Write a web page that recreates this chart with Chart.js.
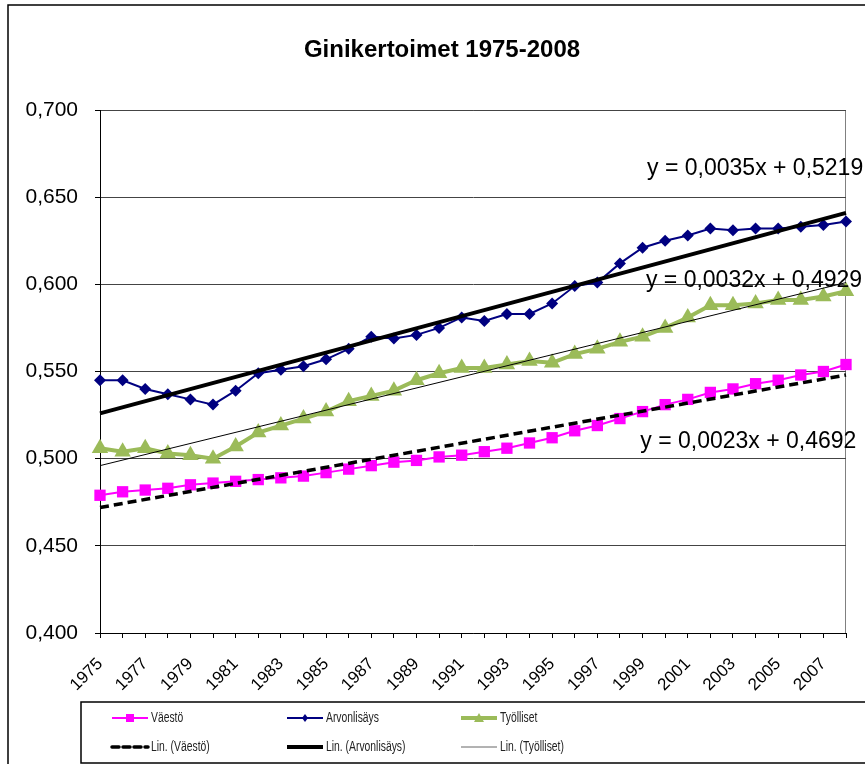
<!DOCTYPE html>
<html>
<head>
<meta charset="utf-8">
<script src="https://cdn.jsdelivr.net/npm/chart.js@4/dist/chart.umd.min.js"></script>
<style>
  html, body { margin: 0; padding: 0; background: #fff; }
  #wrap { width: 865px; height: 764px; position: relative; }
</style>
</head>
<body>
<div id="wrap"><canvas id="gini"></canvas></div>
<script>
// data
const years = ['1975','1976','1977','1978','1979','1980','1981','1982','1983','1984','1985','1986',
  '1987','1988','1989','1990','1991','1992','1993','1994','1995','1996','1997','1998','1999','2000',
  '2001','2002','2003','2004','2005','2006','2007','2008'];

const vaesto = [0.479, 0.481, 0.482, 0.483, 0.485, 0.486, 0.487, 0.488, 0.489, 0.490, 0.492, 0.494,
  0.496, 0.498, 0.499, 0.501, 0.502, 0.504, 0.506, 0.509, 0.512, 0.516, 0.519, 0.523, 0.527, 0.531,
  0.534, 0.538, 0.540, 0.543, 0.545, 0.548, 0.550, 0.554];

const arvonlisays = [0.545, 0.545, 0.540, 0.537, 0.534, 0.531, 0.539, 0.549, 0.551, 0.553, 0.557, 0.563,
  0.570, 0.569, 0.571, 0.575, 0.581, 0.579, 0.583, 0.583, 0.589, 0.599, 0.601, 0.612, 0.621, 0.625,
  0.628, 0.632, 0.631, 0.632, 0.632, 0.633, 0.634, 0.636];

const tyolliset = [0.506, 0.504, 0.506, 0.503, 0.502, 0.500, 0.507, 0.515, 0.519, 0.523, 0.527, 0.533,
  0.536, 0.539, 0.545, 0.549, 0.552, 0.552, 0.554, 0.556, 0.555, 0.560, 0.563, 0.567, 0.570, 0.575,
  0.581, 0.588, 0.588, 0.589, 0.591, 0.591, 0.593, 0.596];

// trend line end points (first and last year)
const trendVaesto = [0.472, 0.548];
const trendArvonlisays = [0.526, 0.641];
const trendTyolliset = [0.496, 0.601];

const equations = ['y = 0,0035x + 0,5219', 'y = 0,0032x + 0,4929', 'y = 0,0023x + 0,4692'];

const FONT = 'Arial, "Liberation Sans", sans-serif';
const MAGENTA = '#ff00ff';
const NAVY = '#000080';
const GREEN = '#9bbb59';

// only first and last point set, the line spans the gap
const trendSeries = (ends) => years.map((_, i) => i === 0 ? ends[0] : (i === years.length - 1 ? ends[1] : null));

// frame, title, plot border, equations, legend
const decorations = {
  id: 'decorations',
  beforeDraw(chart) {
    const { ctx, chartArea: a } = chart;
    ctx.save();
    ctx.strokeStyle = '#000';
    ctx.lineWidth = 1.5;
    ctx.strokeRect(8, 5, 900, 800);
    ctx.fillStyle = '#000';
    ctx.font = 'bold 24px ' + FONT;
    ctx.textAlign = 'center';
    ctx.textBaseline = 'alphabetic';
    ctx.fillText('Ginikertoimet 1975-2008', 442, 57);
    ctx.strokeStyle = '#808080';
    ctx.lineWidth = 1;
    ctx.beginPath();
    ctx.moveTo(a.left, a.top + 0.5);
    ctx.lineTo(a.right - 0.5, a.top + 0.5);
    ctx.lineTo(a.right - 0.5, a.bottom);
    ctx.stroke();
    ctx.restore();
  },
  afterDraw(chart) {
    const { ctx, scales } = chart;
    const x = scales.x, y = scales.y;
    ctx.save();
    ctx.fillStyle = '#000';
    ctx.font = '23px ' + FONT;
    ctx.textAlign = 'left';
    ctx.textBaseline = 'alphabetic';
    const spots = [[24.2, 0.6627], [24.15, 0.5985], [23.9, 0.5062]];
    equations.forEach((t, i) => {
      ctx.fillText(t, x.getPixelForValue(spots[i][0]), y.getPixelForValue(spots[i][1]));
    });

    // legend box
    ctx.strokeStyle = '#000';
    ctx.lineWidth = 1.5;
    ctx.strokeRect(81, 702, 820, 61);
    const items = [
      { text: 'Väestö', x: 112, y: 718, color: MAGENTA, lw: 2, marker: 'rect' },
      { text: 'Arvonlisäys', x: 287, y: 718, color: NAVY, lw: 2, marker: 'diamond' },
      { text: 'Työlliset', x: 461, y: 718, color: GREEN, lw: 4, marker: 'tri' },
      { text: 'Lin. (Väestö)', x: 112, y: 747, color: '#000', lw: 3.5, dash: [7, 4] },
      { text: 'Lin. (Arvonlisäys)', x: 287, y: 747, color: '#000', lw: 4 },
      { text: 'Lin. (Työlliset)', x: 461, y: 747, color: '#666', lw: 1 }
    ];
    items.forEach(it => {
      ctx.strokeStyle = it.color;
      ctx.lineWidth = it.lw;
      ctx.setLineDash(it.dash || []);
      ctx.lineCap = it.dash ? 'round' : 'butt';
      ctx.beginPath();
      ctx.moveTo(it.x, it.y);
      ctx.lineTo(it.x + 36, it.y);
      ctx.stroke();
      ctx.setLineDash([]);
      const cx = it.x + 18;
      ctx.fillStyle = it.color;
      if (it.marker === 'rect') {
        ctx.fillRect(cx - 4, it.y - 4, 8, 8);
      } else if (it.marker === 'diamond') {
        ctx.beginPath();
        ctx.moveTo(cx, it.y - 4); ctx.lineTo(cx + 3, it.y); ctx.lineTo(cx, it.y + 4); ctx.lineTo(cx - 3, it.y);
        ctx.closePath(); ctx.fill();
      } else if (it.marker === 'tri') {
        ctx.beginPath();
        ctx.moveTo(cx, it.y - 5); ctx.lineTo(cx + 5, it.y + 4); ctx.lineTo(cx - 5, it.y + 4);
        ctx.closePath(); ctx.fill();
      }
      ctx.fillStyle = '#222';
      ctx.font = '14px ' + FONT;
      ctx.textAlign = 'left';
      ctx.textBaseline = 'middle';
      ctx.save();
      ctx.translate(it.x + 39, it.y);
      ctx.scale(0.74, 1);
      ctx.fillText(it.text, 0, 0);
      ctx.restore();
    });
    ctx.restore();
  }
};

new Chart(document.getElementById('gini'), {
  type: 'line',
  data: {
    labels: years,
    datasets: [
      {
        label: 'Lin. (Väestö)', data: trendSeries(trendVaesto), spanGaps: true,
        borderColor: '#000', borderWidth: 3.5, borderDash: [9, 5], pointRadius: 0, order: 1
      },
      {
        label: 'Lin. (Arvonlisäys)', data: trendSeries(trendArvonlisays), spanGaps: true,
        borderColor: '#000', borderWidth: 4, pointRadius: 0, order: 1
      },
      {
        label: 'Lin. (Työlliset)', data: trendSeries(trendTyolliset), spanGaps: true,
        borderColor: '#000', borderWidth: 1, pointRadius: 0, order: 1
      },
      {
        label: 'Väestö', data: vaesto, borderColor: MAGENTA, backgroundColor: MAGENTA,
        borderWidth: 2, pointStyle: 'rect', pointRadius: 8, pointBorderWidth: 0, order: 2
      },
      {
        label: 'Arvonlisäys', data: arvonlisays, borderColor: NAVY, backgroundColor: NAVY,
        borderWidth: 2, pointStyle: 'rectRot', pointRadius: 6, pointBorderWidth: 0, order: 2
      },
      {
        label: 'Työlliset', data: tyolliset, borderColor: GREEN, backgroundColor: GREEN,
        borderWidth: 4, pointStyle: 'triangle', pointRadius: 9.5, pointBorderWidth: 0, order: 2
      }
    ]
  },
  options: {
    responsive: true,
    maintainAspectRatio: false,
    animation: false,
    layout: { padding: { left: 8, right: 19, top: 110, bottom: 62 } },
    plugins: {
      legend: { display: false },
      title: { display: false },
      tooltip: { enabled: false }
    },
    scales: {
      x: {
        offset: false,
        afterFit: (s) => { s.height = 69; s.paddingLeft = 0; s.paddingRight = 0; },
        grid: { drawOnChartArea: false, drawTicks: true, tickLength: 5, tickColor: '#000' },
        border: { color: '#000', width: 1 },
        ticks: {
          autoSkip: false,
          minRotation: 45,
          maxRotation: 45,
          padding: 16,
          color: '#000',
          font: { family: FONT, size: 17 },
          callback: (v, i) => (i % 2 === 0 ? years[i] : '')
        }
      },
      y: {
        min: 0.4,
        max: 0.7,
        afterFit: (s) => { s.width = 92; },
        grid: { color: '#444', lineWidth: 1, tickLength: 5, tickColor: '#000' },
        border: { color: '#000', width: 1 },
        ticks: {
          stepSize: 0.05,
          padding: 17,
          color: '#000',
          font: { family: FONT, size: 21 },
          callback: (v) => v.toFixed(3).replace('.', ',')
        }
      }
    }
  },
  plugins: [decorations]
});
</script>
</body>
</html>
